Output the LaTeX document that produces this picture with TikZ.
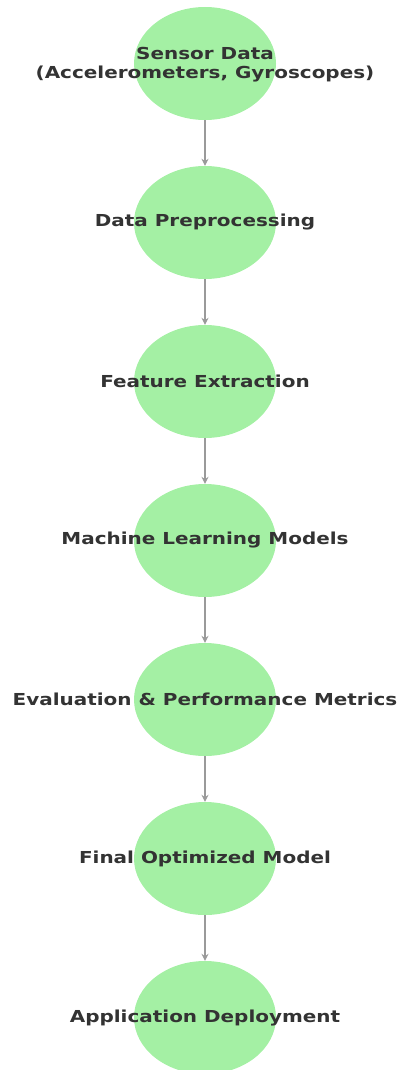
\documentclass[tikz,border=0pt]{standalone}
\usepackage{fontspec}
\setmainfont{DejaVu Sans}
\newfontfamily\stagefont{DejaVu Sans}[FakeStretch=1.21]
\usetikzlibrary{shapes.geometric,arrows.meta}
\definecolor{stagefill}{HTML}{A4F0A4}
\definecolor{flowgray}{HTML}{9A9A9A}
\definecolor{labelink}{HTML}{333333}
\begin{document}
\begin{tikzpicture}[x=1pt,y=-1pt,
  stage/.style={ellipse,draw=none,fill=stagefill,minimum width=142pt,minimum height=113pt,inner sep=0pt},
  stagetext/.style={text=labelink,font=\stagefont\fontsize{16.5}{19}\selectfont\bfseries,align=center,inner sep=0pt},
  flow/.style={draw=flowgray,line width=1.3pt,-{Stealth[length=7pt,width=7pt]}}]
\useasboundingbox (0,0) rectangle (399,1070);
\foreach \i/\y in {1/63.5,2/222.5,3/381.5,4/540.5,5/699.5,6/858.5,7/1017.5}
  \node[stage] (s\i) at (205,\y) {};
\node[stagetext] (t1) at ([yshift=-1.5pt]s1.center) {Sensor Data\\(Accelerometers, Gyroscopes)};
\node[stagetext] (t2) at (s2.center) {Data Preprocessing};
\node[stagetext] (t3) at (s3.center) {Feature Extraction};
\node[stagetext] (t4) at (s4.center) {Machine Learning Models};
\node[stagetext] (t5) at (s5.center) {Evaluation \& Performance Metrics};
\node[stagetext] (t6) at (s6.center) {Final Optimized Model};
\node[stagetext] (t7) at (s7.center) {Application Deployment};
\foreach \a/\b in {1/2,2/3,3/4,4/5,5/6,6/7}
  \draw[flow] (s\a) -- (s\b);
\end{tikzpicture}
\end{document}
